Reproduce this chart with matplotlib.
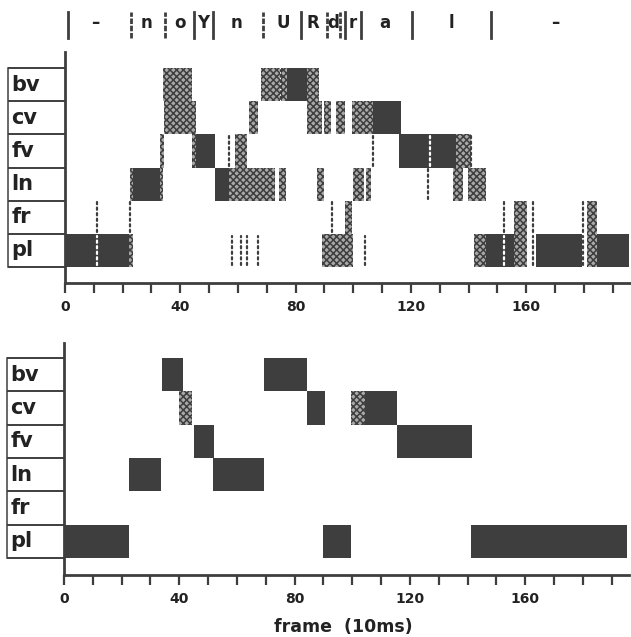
import matplotlib
matplotlib.use("Agg")
import matplotlib.pyplot as plt
from matplotlib.patches import Rectangle
from matplotlib.transforms import blended_transform_factory

# ---------------- data ----------------
rows = ["pl", "fr", "ln", "fv", "cv", "bv"]          # bottom -> top

# top panel (frame-by-frame classifier output)
top_solid = {
    "bv": [(77, 84)],
    "cv": [(107, 116.5)],
    "fv": [(45.5, 52), (116, 135.6)],
    "ln": [(23.5, 33), (52, 57)],
    "fr": [],
    "pl": [(0, 22.3), (146, 155.7), (163.3, 179.2), (184.4, 195.5)],
}
top_checker = {
    "bv": [(34, 44), (68, 74.5), (75, 77), (84, 88)],
    "cv": [(34.5, 45.5), (64, 67), (84, 89), (90, 92.4), (94, 97), (99.7, 107)],
    "fv": [(33, 34.5), (44, 45.5), (59, 63), (135.6, 140.8)],
    "ln": [(22.5, 23.5), (33, 34), (57, 72.7), (74.4, 76.8), (87.5, 90),
           (100, 103.8), (104.5, 106), (134.5, 138), (139.8, 146)],
    "fr": [(97, 99.7), (155.7, 160.2), (181, 184.4)],
    "pl": [(22.3, 23.5), (89, 100), (142, 146), (155.7, 160.2), (181, 184.4)],
}
top_dots = {
    "bv": [74.8],
    "cv": [],
    "fv": [57, 107, 141],
    "ln": [126],
    "fr": [11, 22.5, 92.7, 152.2, 162.3, 179.6],
    "pl": [58, 61, 63, 67, 104, 162.3, 179.6],
}
top_gaps = {
    "fv": [126.5],
    "pl": [11.2, 152.2],
}

# bottom panel (smoothed / segmented output)
bot_solid = {
    "bv": [(34, 41.3), (69.5, 84.4)],
    "cv": [(84.4, 90.7), (104.5, 115.6)],
    "fv": [(45, 52), (115.4, 141.5)],
    "ln": [(22.6, 33.7), (51.7, 69.5)],
    "fr": [],
    "pl": [(0, 22.6), (90, 99.7), (141.2, 195.2)],
}
bot_checker = {
    "cv": [(40, 44.5), (99.7, 104.5)],
}

# phone segmentation strip
seg_bounds_solid = [1.0, 44.7, 51.3, 81.8, 97.1, 102.6, 120.3, 147.7]
seg_bounds_dotted = [22.9, 34.7, 68.6, 90.8, 95.3]
seg_labels = ["–", "n", "o", "Y", "n", "U", "R", "d", "r", "a", "l", "–"]
seg_label_pos = [10.4, 28.4, 39.9, 47.8, 59.6, 75.6, 86.0, 92.9, 99.8, 110.9, 134.1, 170.2]

x_major = [0, 40, 80, 120, 160]
x_minor = list(range(0, 200, 10))
x_max = 196

# ---------------- style ----------------
DARK = "#3e3e3e"
plt.rcParams["hatch.linewidth"] = 1.1
plt.rcParams["hatch.color"] = DARK
plt.rcParams["font.family"] = ["DejaVu Sans"]

fig = plt.figure(figsize=(6.31, 6.37), dpi=100)
W, H = 631, 637


def make_ax(left_px, right_px, top_px, bottom_px, ylo, yhi):
    ax = fig.add_axes([left_px / W, 1 - bottom_px / H,
                       (right_px - left_px) / W, (bottom_px - top_px) / H])
    ax.set_xlim(0, x_max)
    ax.set_ylim(ylo, yhi)
    for s in ["top", "right"]:
        ax.spines[s].set_visible(False)
    for s in ["left", "bottom"]:
        ax.spines[s].set_color(DARK)
        ax.spines[s].set_linewidth(2.0)
    ax.set_xticks(x_major)
    ax.set_xticks(x_minor, minor=True)
    ax.tick_params(axis="x", which="both", direction="out", length=7,
                   width=1.6, color=DARK)
    ax.tick_params(axis="x", which="major", labelsize=10, pad=5,
                   labelcolor="#222222")
    for t in ax.get_xticklabels():
        t.set_fontweight("bold")
    ax.set_yticks([])
    # label boxes on the left
    tr = ax.get_yaxis_transform()
    xl = -0.101
    for i in range(len(rows) + 1):
        ax.plot([xl, 0], [i, i], transform=tr, color=DARK, lw=1.4,
                clip_on=False, solid_capstyle="butt")
    ax.plot([xl, xl], [0, len(rows)], transform=tr, color=DARK, lw=1.1,
            clip_on=False)
    for i, r in enumerate(rows):
        ax.text(xl + 0.006, i + 0.5, r, transform=tr, ha="left", va="center",
                fontsize=15, fontweight="bold", color="#222222")
    return ax


def draw_cells(ax, solid, checker):
    for i, r in enumerate(rows):
        for a, b in checker.get(r, []):
            ax.add_patch(Rectangle((a, i), b - a, 1, facecolor="#a9a9a9",
                                   edgecolor=DARK, hatch="xxxxx", lw=0))
        for a, b in solid.get(r, []):
            ax.add_patch(Rectangle((a, i), b - a, 1, facecolor=DARK,
                                   edgecolor="none", lw=0))


def draw_cols(ax, cols, color):
    for i, r in enumerate(rows):
        for f in cols.get(r, []):
            ax.plot([f, f], [i + 0.05, i + 0.95], color=color, lw=1.6,
                    linestyle=(0, (1, 1.5)), solid_capstyle="round",
                    dash_capstyle="round")


# top panel
ax1 = make_ax(65, 630, 52, 283, -0.48, 6.48)
draw_cells(ax1, top_solid, top_checker)
draw_cols(ax1, top_dots, DARK)
draw_cols(ax1, top_gaps, "white")

# bottom panel
ax2 = make_ax(64, 629, 343, 575, -0.51, 6.45)
draw_cells(ax2, bot_solid, bot_checker)

# segmentation strip above top panel
st = blended_transform_factory(ax1.transData, fig.transFigure)
y0, y1 = 1 - 38 / H, 1 - 12 / H
for f in seg_bounds_solid:
    fig.add_artist(plt.Line2D([f, f], [y0, y1], transform=st, color=DARK,
                              lw=2.0))
for f in seg_bounds_dotted:
    fig.add_artist(plt.Line2D([f, f], [y0, y1], transform=st, color=DARK,
                              lw=2.0, linestyle=(0, (2, 0.6))))
for f, lab in zip(seg_label_pos, seg_labels):
    fig.text(f, 1 - 23 / H, lab, transform=st, ha="center", va="center",
             fontsize=12, fontweight="bold", color="#222222")

fig.text(343 / W, 1 - 627 / H, "frame  (10ms)", ha="center", va="center",
         fontsize=12.5, fontweight="bold", color="#222222")

fig.savefig("out.png", dpi=100, facecolor="white")
